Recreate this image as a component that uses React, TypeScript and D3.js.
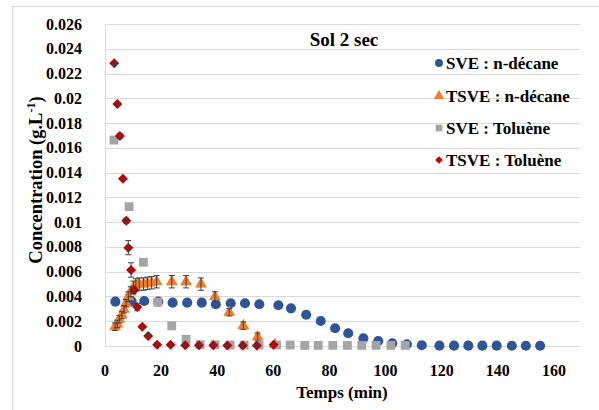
import React from "react";
import * as d3 from "d3";

const yTicks = [0, 0.002, 0.004, 0.006, 0.008, 0.01, 0.012, 0.014, 0.016, 0.018, 0.02, 0.022, 0.024, 0.026];
const xTicks = [0, 20, 40, 60, 80, 100, 120, 140, 160];

const sveDecaneT = [3.7, 9.5, 14, 19, 24.1, 29.3, 34.5, 39.5, 44.8, 49.9, 55, 61.8, 66.3, 71.7, 76.9, 82, 86.7, 92.1, 97.4, 102.4, 107.6, 112.9, 119.2, 124.4, 129.5, 134.5, 139.6, 145, 150, 155.1];
const sveDecaneV = [0.00358, 0.0036, 0.00363, 0.00358, 0.0035, 0.0035, 0.0035, 0.00337, 0.00345, 0.00345, 0.00337, 0.00329, 0.00304, 0.00252, 0.00202, 0.00143, 0.00103, 0.00062, 0.0004, 0.00022, 0.00014, 0.00006, 0.00003, 0.00003, 0.00003, 0.00003, 0.00003, 0.00002, 0.00002, 0.00002];

const tsveDecaneT = [3.6, 4.4, 5.1, 6.0, 6.8, 7.5, 8.3, 9.2, 10.1, 11.0, 12.2, 13.7, 15.1, 16.6, 18.4, 23.8, 28.9, 34.2, 39.2, 44.3, 49.3, 54.4, 60.6];
const tsveDecaneV = [0.00156, 0.00178, 0.00216, 0.0025, 0.00296, 0.00345, 0.00398, 0.00438, 0.00474, 0.00493, 0.005, 0.005, 0.00506, 0.00511, 0.00519, 0.00519, 0.00519, 0.005, 0.00398, 0.00272, 0.00164, 0.00075, 0.0001];
const tsveDecaneE = [0.0003, 0.0003, 0.0003, 0.0003, 0.0003, 0.0003, 0.0004, 0.0004, 0.0005, 0.0005, 0.0005, 0.0005, 0.0005, 0.0005, 0.0005, 0.0005, 0.0005, 0.0005, 0.0004, 0.0003, 0.0003, 0.0003, 0.0001];

const sveTolueneT = [3.2, 8.6, 13.7, 18.8, 23.8, 28.9, 33.9, 39.2, 44.6, 49.6, 54.9, 61.2, 66, 71.2, 76, 81.2, 86.4, 91.5, 96.6, 101.9, 107];
const sveTolueneV = [0.01663, 0.01125, 0.00676, 0.00353, 0.00162, 0.00054, 0.0001, 0.0001, 0.00008, 0.00008, 0.00008, 0.00008, 0.00008, 0.00005, 0.00005, 0.00005, 0.00005, 0.00005, 0.00005, 0.00005, 0.00005];

const tsveTolueneT = [3.3, 4.4, 5.3, 6.4, 7.6, 8.3, 9.3, 10.4, 11.5, 13.3, 15.4, 18.6, 23.4, 28.6, 33.5, 38.6, 43.6, 49.1, 54.1, 60.1];
const tsveTolueneV = [0.02283, 0.01954, 0.01696, 0.01351, 0.01012, 0.00794, 0.00614, 0.00452, 0.00315, 0.00156, 0.00081, 0.00011, 0.0001, 0.00007, 0.00007, 0.00007, 0.00005, 0.00005, 0.00005, 0.0001];
const tsveTolueneE = [0.0001, 0.0001, 0.0002, 0.0001, 0.0002, 0.00057, 0.00058, 0.0002, 0.0003, 0.0001, 0.0001, 0.0001, 0.0001, 0.0001, 0.0001, 0.0001, 0.0001, 0.0001, 0.0001, 0.0001];

const seriesNames = ["SVE : n-décane", "TSVE : n-décane", "SVE : Toluène", "TSVE : Toluène"];
const seriesColors = ["#2F5597", "#ED7D31", "#A5A5A5", "#C00000"];

const W = 599;
const H = 410;
const FONT = '"Liberation Serif", "Times New Roman", Times, "DejaVu Serif", serif';
const txt = { fontFamily: FONT, fontWeight: 700 as const };

export default function App() {
  const x = d3.scaleLinear().domain([0, 169.3]).range([105, 580]);
  const y = d3.scaleLinear().domain([0, 0.026]).range([346, 24]);

  const circle = d3.symbol().type(d3.symbolCircle).size(80)()!;
  const tri = d3.symbol().type(d3.symbolTriangle).size(62)()!;
  const square = d3.symbol().type(d3.symbolSquare).size(78)()!;
  const diamond = d3.symbol().type(d3.symbolSquare).size(50)()!;

  const lCircle = d3.symbol().type(d3.symbolCircle).size(50)()!;
  const lTri = d3.symbol().type(d3.symbolTriangle).size(48)()!;
  const lSquare = d3.symbol().type(d3.symbolSquare).size(45)()!;
  const lDiamond = d3.symbol().type(d3.symbolSquare).size(30)()!;

  const series = [
    { t: sveDecaneT, v: sveDecaneV, e: null as number[] | null, path: circle, rot: 0, color: seriesColors[0] },
    { t: tsveDecaneT, v: tsveDecaneV, e: tsveDecaneE, path: tri, rot: 0, color: seriesColors[1] },
    { t: sveTolueneT, v: sveTolueneV, e: null as number[] | null, path: square, rot: 0, color: seriesColors[2] },
    { t: tsveTolueneT, v: tsveTolueneV, e: tsveTolueneE, path: diamond, rot: 45, color: seriesColors[3] },
  ];
  const legendPaths = [lCircle, lTri, lSquare, lDiamond];
  const legendRots = [0, 0, 0, 45];
  const legendY = [63, 96, 128, 160];

  return (
    <svg width={W} height={H} style={{ position: "absolute", left: 0, top: 0, background: "#fff" }}>
      <rect x={12.5} y={6.5} width={W} height={H} fill="#fff" stroke="#d9d9d9" strokeWidth={1} />
      {yTicks.map((t) => (
        <line key={"g" + t} x1={105} x2={580} y1={Math.round(y(t)) + 0.5} y2={Math.round(y(t)) + 0.5} stroke="#d9d9d9" strokeWidth={1} />
      ))}
      <line x1={105.5} x2={105.5} y1={24} y2={346} stroke="#d9d9d9" />
      {yTicks.map((t) => (
        <text key={"yl" + t} x={82} y={y(t) + 5.5} textAnchor="end" fontSize={16} style={txt} fill="#000">
          {String(t)}
        </text>
      ))}
      {xTicks.map((t) => (
        <text key={"xl" + t} x={x(t)} y={376} textAnchor="middle" fontSize={16} style={txt} fill="#000">
          {t}
        </text>
      ))}
      <text x={342} y={398} textAnchor="middle" fontSize={17} style={txt}>Temps (min)</text>
      <text transform="translate(42,180) rotate(-90)" textAnchor="middle" fontSize={18.5} style={txt}>
        Concentration (g.L<tspan dy={-7} fontSize={12}>-1</tspan><tspan dy={7}>)</tspan>
      </text>
      <text x={344} y={46} textAnchor="middle" fontSize={19} style={txt}>Sol 2 sec</text>

      {series.map((s, si) => (
        <g key={"s" + si}>
          {s.t.map((t, i) => (
            <g key={i} transform={`translate(${x(t)},${y(s.v[i])})`}>
              <path d={s.path} fill={s.color} transform={s.rot ? `rotate(${s.rot})` : undefined} />
            </g>
          ))}
          {s.e &&
            s.t.map((t, i) => {
              const e = s.e![i];
              const cx = x(t);
              const y1 = y(s.v[i] + e);
              const y2 = y(Math.max(0, s.v[i] - e));
              return (
                <g key={"e" + i} stroke="#404040" strokeWidth={1}>
                  <line x1={cx} x2={cx} y1={y1} y2={y2} />
                  <line x1={cx - 3} x2={cx + 3} y1={y1} y2={y1} />
                  <line x1={cx - 3} x2={cx + 3} y1={y2} y2={y2} />
                </g>
              );
            })}
        </g>
      ))}

      {seriesNames.map((n, i) => (
        <g key={"lg" + i}>
          <g transform={`translate(439,${legendY[i]})`}>
            <path d={legendPaths[i]} fill={seriesColors[i]} transform={legendRots[i] ? `rotate(${legendRots[i]})` : undefined} />
          </g>
          <text x={446} y={legendY[i] + 6} fontSize={17} style={txt} fill="#000">{n}</text>
        </g>
      ))}
    </svg>
  );
}
